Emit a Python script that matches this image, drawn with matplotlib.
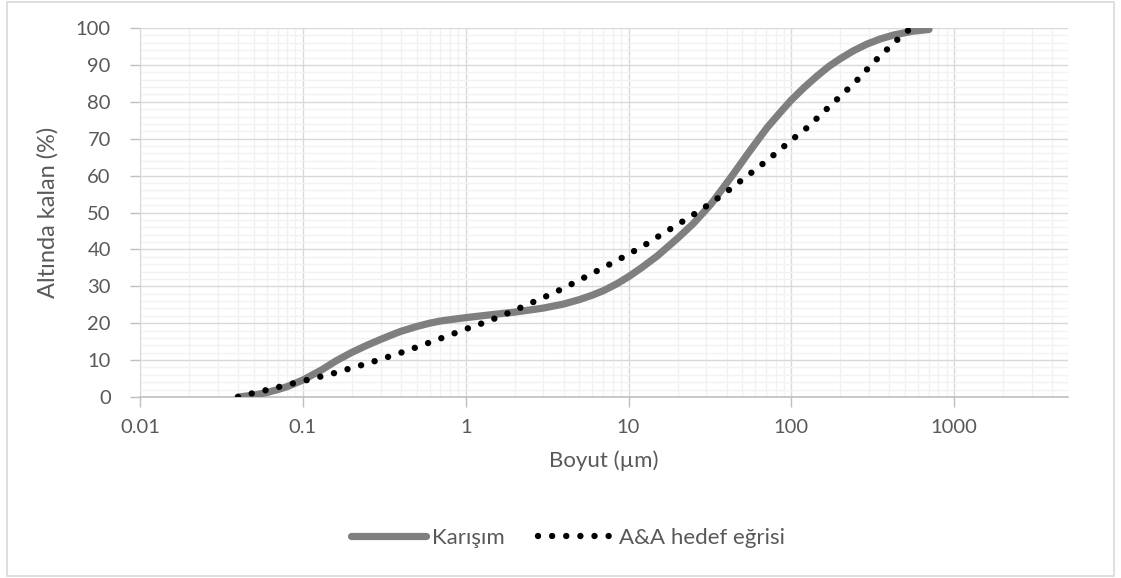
import matplotlib
matplotlib.use('Agg')
import matplotlib.pyplot as plt
from matplotlib.patches import Rectangle
from matplotlib.ticker import LogLocator, FixedLocator, MultipleLocator, FuncFormatter

# Karışım (mixture) curve
mix_size = [0.04, 0.05, 0.06, 0.07, 0.08, 0.1, 0.13, 0.16, 0.2, 0.25, 0.3, 0.35,
            0.4, 0.5, 0.6, 0.7, 0.85, 1, 1.5, 2, 3, 4, 5, 6, 7, 8.5, 10, 12, 15,
            20, 25, 32, 38, 44, 55, 71, 85, 100, 120, 144, 170, 200, 240, 290,
            350, 425, 550, 700]
mix_pct = [0, 0.5, 1.2, 2.0, 2.8, 4.6, 7.3, 9.8, 12.1, 14.1, 15.6, 16.8,
           17.8, 19.1, 20.0, 20.6, 21.1, 21.5, 22.4, 23.0, 24.1, 25.2, 26.4, 27.6,
           28.8, 30.7, 32.6, 35.0, 38.2, 43.0, 47.0, 52.2, 56.6, 60.4, 66.4, 73.0,
           77.0, 80.5, 83.9, 87.0, 89.6, 91.7, 93.8, 95.6, 97.0, 98.1, 99.1, 99.6]

# A&A target curve
aa_size = [0.04, 0.05, 0.063, 0.08, 0.1, 0.125, 0.16, 0.2, 0.25, 0.32, 0.4, 0.5,
           0.63, 0.8, 1, 1.25, 1.6, 2, 2.5, 3.2, 4, 5, 6.3, 8, 10, 12.5, 16, 20,
           25, 32, 40, 50, 63, 80, 100, 125, 160, 200, 250, 320, 400, 500, 550]
aa_pct = [0, 1.1, 2.1, 3.3, 4.3, 5.4, 6.6, 7.9, 9.1, 10.6, 12.0, 13.5, 15.1, 16.8,
          18.4, 19.9, 21.7, 23.5, 25.4, 27.5, 29.5, 31.7, 34.0, 36.4, 38.7, 41.1,
          44.1, 46.7, 49.4, 52.5, 55.6, 58.9, 62.3, 66.0, 69.6, 73.0, 77.5, 81.5,
          85.6, 90.7, 94.8, 98.8, 100]

plt.rcParams['font.family'] = ['Lato', 'DejaVu Sans']
text_col = '#595959'

fig = plt.figure(figsize=(11.21, 5.78), dpi=100)
fig.patches.append(Rectangle((7 / 1121, 0.003), 1107 / 1121, 0.994,
                             transform=fig.transFigure, fill=False,
                             edgecolor='#d9d9d9', linewidth=1.2))
ax = fig.add_axes([140 / 1121, 1 - 397 / 578, 928 / 1121, 369 / 578])

ax.plot(mix_size, mix_pct, color='#7f7f7f', linewidth=5.2,
        solid_capstyle='round', solid_joinstyle='round', label='Karışım', zorder=3)
ax.plot(aa_size, aa_pct, color='black', linewidth=4.6,
        linestyle=(0, (0.01, 2.2)), dash_capstyle='round',
        label='A&A hedef eğrisi', zorder=4)

ax.set_xscale('log')
ax.set_xlim(0.01, 5000)
ax.set_ylim(0, 100)

ax.xaxis.set_major_locator(FixedLocator([0.01, 0.1, 1, 10, 100, 1000]))
ax.xaxis.set_major_formatter(FuncFormatter(lambda v, p: '%g' % v))
ax.xaxis.set_minor_locator(LogLocator(base=10, subs=range(2, 10), numticks=20))
ax.yaxis.set_major_locator(MultipleLocator(10))
ax.yaxis.set_minor_locator(MultipleLocator(2))

ax.grid(which='major', color='#d9d9d9', linewidth=1.0, zorder=0)
ax.grid(which='minor', color='#f2f2f2', linewidth=1.0, zorder=0)
ax.set_axisbelow(True)

for s in ['top', 'right']:
    ax.spines[s].set_visible(False)
ax.spines['bottom'].set_color('#bfbfbf')
ax.spines['bottom'].set_linewidth(1.2)
ax.spines['left'].set_color('#d9d9d9')

ax.tick_params(axis='both', which='major', labelsize=14.5, labelcolor=text_col,
               color='#bfbfbf', length=7, width=1)
ax.tick_params(axis='x', which='major', pad=9)
ax.tick_params(axis='y', which='major', pad=14)
ax.tick_params(which='minor', length=0)

ax.set_xlabel('Boyut (µm)', fontsize=16, color=text_col, labelpad=10)
ax.set_ylabel('Altında kalan (%)', fontsize=17, color=text_col, labelpad=12)

fig.legend(loc='center', bbox_to_anchor=(568 / 1121, 1 - 538 / 578), ncol=2,
           frameon=False, fontsize=16, labelcolor=text_col, handlelength=3.4,
           handletextpad=0.25, columnspacing=1.5)

fig.savefig('out.png', dpi=100)
